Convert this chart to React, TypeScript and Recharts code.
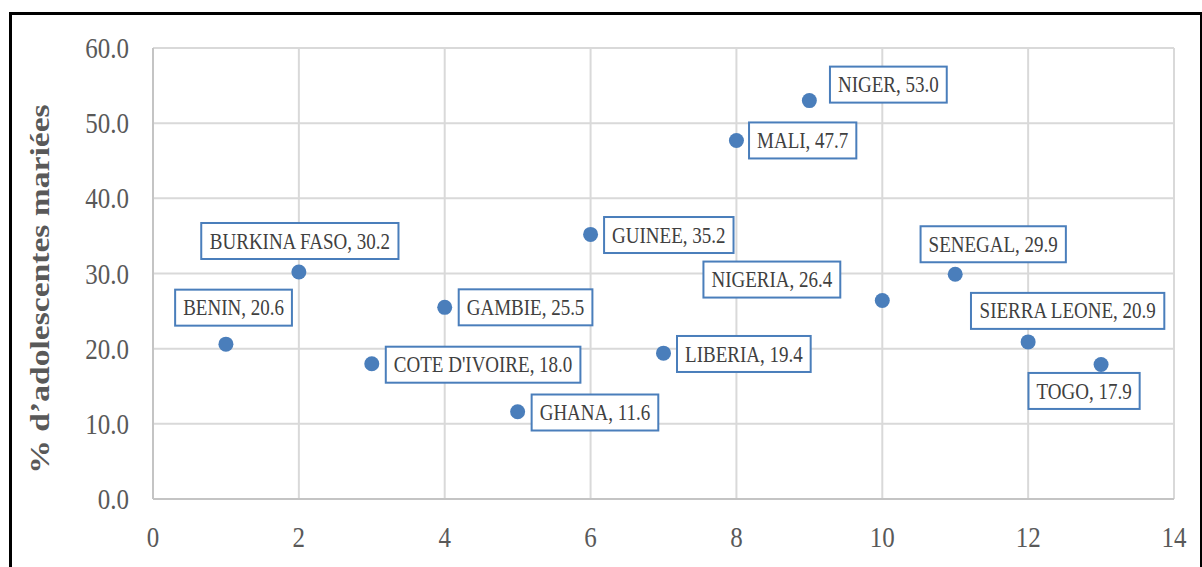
import { ScatterChart, Scatter, XAxis, YAxis, CartesianGrid } from "recharts";

// % of married adolescent girls, by country (x = rank in the source table)
const COUNTRIES = [
  "BENIN", "BURKINA FASO", "COTE D'IVOIRE", "GAMBIE", "GHANA", "GUINEE", "LIBERIA",
  "MALI", "NIGER", "NIGERIA", "SENEGAL", "SIERRA LEONE", "TOGO",
];
const RANKS = [1, 2, 3, 4, 5, 6, 7, 8, 9, 10, 11, 12, 13];
const MARRIED_PCT = [20.6, 30.2, 18.0, 25.5, 11.6, 35.2, 19.4, 47.7, 53.0, 26.4, 29.9, 20.9, 17.9];
const X_TICKS = [0, 2, 4, 6, 8, 10, 12, 14];
const Y_TICKS = [0, 10, 20, 30, 40, 50, 60];

// where each data label box sits relative to its point: [anchor, dx, dy(center)]
const LABEL_PLACEMENT: [string, number, number][] = [
  ["middle", 7.6, -36.5],
  ["middle", 1, -31],
  ["start", 14, 1],
  ["start", 14, 0],
  ["start", 14, 0.7],
  ["start", 13.5, 0.6],
  ["start", 13.5, 0.8],
  ["start", 12.6, 0],
  ["start", 20.6, -16],
  ["end", -42, -21],
  ["middle", 38, -30],
  ["middle", 39.5, -31],
  ["middle", -17, 26.5],
];

const BLUE = "#4a7ebb";
const SERIF = "'Liberation Serif', 'Times New Roman', serif";
const LABEL_FONT = 19;

const data = RANKS.map((x, i) => ({ x, y: MARRIED_PCT[i], name: COUNTRIES[i], i }));

let ctx: CanvasRenderingContext2D | null = null;
function measure(s: string) {
  if (!ctx) ctx = document.createElement("canvas").getContext("2d");
  ctx!.font = `${LABEL_FONT}px ${SERIF}`;
  return ctx!.measureText(s).width;
}

function PointWithLabel(props: any) {
  const { cx, cy, payload } = props;
  const [anchor, dx, dy] = LABEL_PLACEMENT[payload.i];
  const text = `${payload.name}, ${payload.y.toFixed(1)}`;
  const w = measure(text) + 16;
  const h = 36;
  let left = cx + dx - w / 2;
  if (anchor === "start") left = cx + dx;
  if (anchor === "end") left = cx + dx - w;
  const top = cy + dy - h / 2;
  return (
    <g>
      <circle cx={cx} cy={cy} r={7.5} fill={BLUE} />
      <rect x={left} y={top} width={w} height={h} fill="#fff" stroke={BLUE} strokeWidth={2} />
      <g transform={`translate(${left + w / 2},${top + h / 2}) scale(1,1.2)`}>
        <text x={0} y={6.3} textAnchor="middle" fontSize={LABEL_FONT} fontFamily={SERIF} fill="#404040">
          {text}
        </text>
      </g>
    </g>
  );
}

function XTick({ x, y, payload }: any) {
  return (
    <g transform={`translate(${x},${y + 27}) scale(1,1.18)`}>
      <text x={0} y={0} dy="0.71em" textAnchor="middle" fontSize={25} fontFamily={SERIF} fill="#595959">
        {payload.value}
      </text>
    </g>
  );
}

function YTick({ x, y, payload }: any) {
  return (
    <g transform={`translate(${x - 24},${y}) scale(1,1.18)`}>
      <text x={0} y={8.5} textAnchor="end" fontSize={25} fontFamily={SERIF} fill="#595959">
        {payload.value.toFixed(1)}
      </text>
    </g>
  );
}

export default function App() {
  return (
    <div style={{ position: "fixed", left: 0, top: 0, width: 1202, height: 567, background: "#fff", overflow: "hidden" }}>
      <div
        style={{
          position: "absolute", left: 9, top: 12, width: 1188, height: 600,
          borderLeft: "3px solid #000", borderTop: "3px solid #000", borderRight: "3px solid #000",
        }}
      />
      <div style={{ position: "absolute", left: 0, top: 0 }}>
        <ScatterChart width={1202} height={567} margin={{ top: 48, right: 28, bottom: 0, left: 0 }}>
          <CartesianGrid stroke="#d9d9d9" strokeWidth={2} />
          <XAxis
            type="number"
            dataKey="x"
            domain={[0, 14]}
            ticks={X_TICKS}
            height={68}
            tickSize={0}
            tickMargin={0}
            tickLine={false}
            axisLine={{ stroke: "#c4c4c4", strokeWidth: 2 }}
            tick={<XTick />}
          />
          <YAxis
            type="number"
            dataKey="y"
            domain={[0, 60]}
            ticks={Y_TICKS}
            width={153}
            tickSize={0}
            tickMargin={0}
            tickLine={false}
            axisLine={{ stroke: "#c4c4c4", strokeWidth: 2 }}
            tick={<YTick />}
          />
          <Scatter data={data} fill={BLUE} shape={<PointWithLabel />} isAnimationActive={false} />
          <g transform="translate(48.5,289) rotate(-90) scale(1.2,1)">
            <text x={0} y={0} textAnchor="middle" fontSize={28} fontWeight="bold" fontFamily={SERIF} fill="#595959">
              % d’adolescentes mariées
            </text>
          </g>
        </ScatterChart>
      </div>
    </div>
  );
}
